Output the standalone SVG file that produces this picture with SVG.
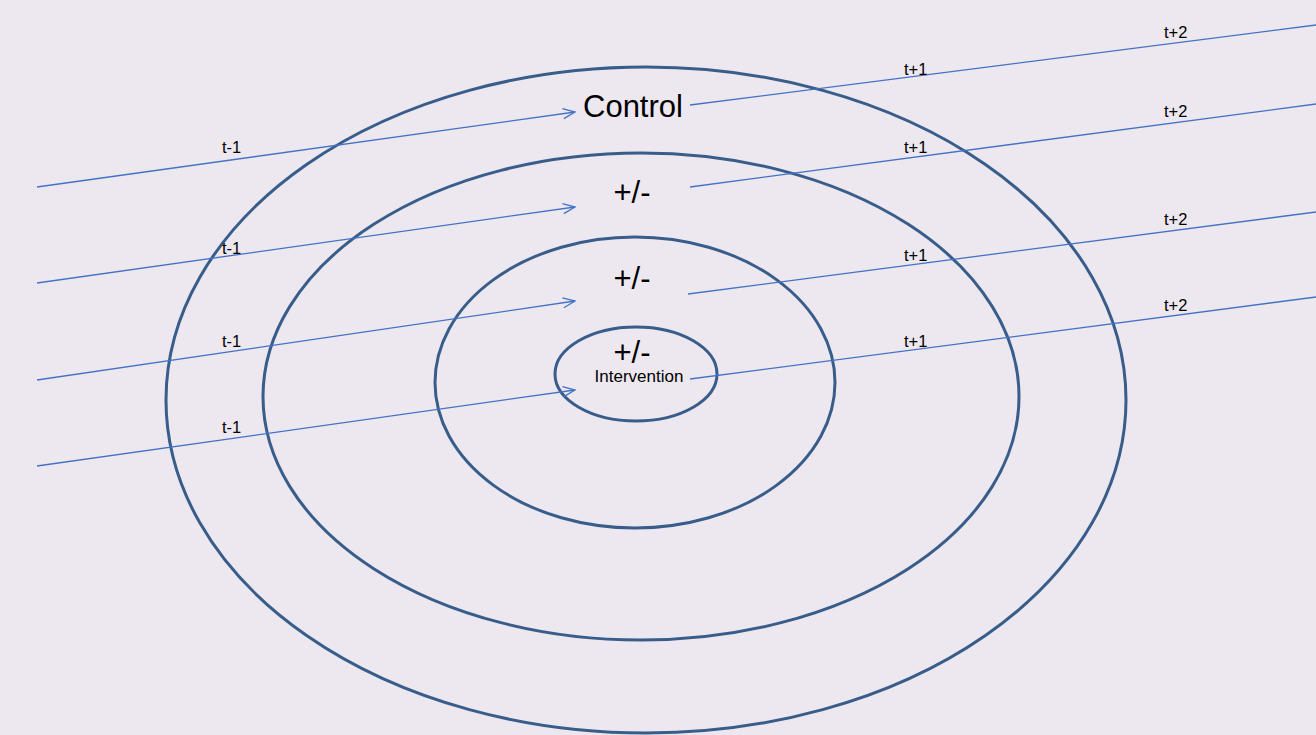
<svg xmlns="http://www.w3.org/2000/svg" width="1316" height="735" viewBox="0 0 1316 735">
<defs>
<marker id="arr" viewBox="0 0 14 12" refX="13" refY="6" markerWidth="14" markerHeight="12" markerUnits="userSpaceOnUse" orient="auto">
<path d="M1,1 L13,6 L1,11" fill="none" stroke="#4472C4" stroke-width="1.3"/>
</marker>
<style>
.ring{fill:none;stroke:#385D8A;stroke-width:3}
.ln{fill:none;stroke:#4472C4;stroke-width:1.3}
.sm{font-family:"Liberation Sans",Arial,sans-serif;font-size:16.5px;fill:#000}
.mid{font-family:"Liberation Sans",Arial,sans-serif;font-size:17px;fill:#000}
.big{font-family:"Liberation Sans",Arial,sans-serif;font-size:31px;fill:#000}
</style>
</defs>
<rect width="1316" height="735" fill="#EDE8F0"/>
<g id="ring-outer"><ellipse class="ring" cx="646" cy="400" rx="480" ry="333"/></g>
<g id="ring-2"><ellipse class="ring" cx="641" cy="396.5" rx="378" ry="243.5"/></g>
<g id="ring-3"><ellipse class="ring" cx="635" cy="382.5" rx="200" ry="145.5"/></g>
<g id="ring-inner"><ellipse class="ring" cx="636" cy="374" rx="81" ry="47"/></g>
<g id="connectors">
<line class="ln" x1="37" y1="187" x2="575" y2="112" marker-end="url(#arr)"/>
<line class="ln" x1="690" y1="105" x2="1316" y2="25"/>
<line class="ln" x1="37" y1="283" x2="575" y2="207" marker-end="url(#arr)"/>
<line class="ln" x1="690" y1="187" x2="1316" y2="104"/>
<line class="ln" x1="37" y1="380" x2="575" y2="301" marker-end="url(#arr)"/>
<line class="ln" x1="688" y1="294" x2="1316" y2="212"/>
<line class="ln" x1="37" y1="466" x2="575" y2="390" marker-end="url(#arr)"/>
<line class="ln" x1="690" y1="379" x2="1316" y2="297"/>
</g>
<g id="labels-time">
<text class="sm" x="222" y="153">t-1</text>
<text class="sm" x="222" y="254">t-1</text>
<text class="sm" x="222" y="347">t-1</text>
<text class="sm" x="222" y="433">t-1</text>
<text class="sm" x="904" y="75">t+1</text>
<text class="sm" x="904" y="153">t+1</text>
<text class="sm" x="904" y="261">t+1</text>
<text class="sm" x="904" y="347">t+1</text>
<text class="sm" x="1164" y="38">t+2</text>
<text class="sm" x="1164" y="117">t+2</text>
<text class="sm" x="1164" y="225">t+2</text>
<text class="sm" x="1164" y="311">t+2</text>
</g>
<g id="node-control"><text class="big" x="583" y="117">Control</text></g>
<g id="node-pm1"><text class="big" x="632" y="203" text-anchor="middle">+/-</text></g>
<g id="node-pm2"><text class="big" x="632" y="289" text-anchor="middle">+/-</text></g>
<g id="node-intervention">
<text class="big" x="632" y="363" text-anchor="middle">+/-</text>
<text class="mid" x="639" y="382" text-anchor="middle">Intervention</text>
</g>
</svg>
